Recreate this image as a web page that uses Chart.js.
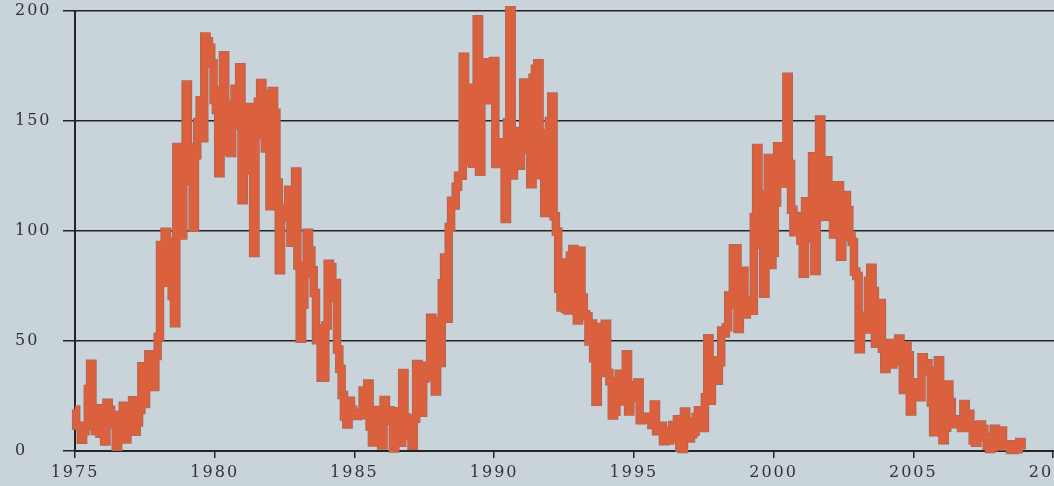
<!DOCTYPE html>
<html>
<head>
<meta charset="utf-8">
<script src="https://cdn.jsdelivr.net/npm/chart.js@4"></script>
<style>
    html, body {
        margin: 0;
        padding: 0;
        background: #c9d4da;
        overflow: hidden;
    }
    #wrap {
        width: 1081px;
        height: 486px;
    }
</style>
</head>
<body>
<div id="wrap"><canvas id="sunChart"></canvas></div>
<script>
// monthly mean sunspot number, one row per year
const startYear = 1975;
const monthly = [
    18.9, 11.5, 11.5, 5.1, 9.0, 11.4, 28.2, 39.7, 13.9, 9.1, 19.4, 7.8,          // 1975
    8.1, 4.3, 21.9, 18.8, 12.4, 12.2, 1.9, 16.4, 13.5, 20.6, 5.2, 15.3,          // 1976
    16.4, 23.1, 8.7, 12.9, 18.6, 38.5, 21.4, 30.1, 44.0, 43.8, 29.1, 43.2,       // 1977
    51.9, 93.6, 76.5, 99.7, 82.7, 95.1, 70.4, 58.1, 138.2, 125.1, 97.9, 122.7,   // 1978
    166.6, 137.5, 138.0, 101.5, 134.4, 149.5, 159.4, 142.2, 188.4, 186.2, 183.3, 176.3, // 1979
    159.6, 155.0, 126.2, 164.1, 179.9, 157.3, 136.3, 135.4, 155.0, 164.7, 147.9, 174.4, // 1980
    114.0, 141.3, 135.5, 156.4, 127.5, 90.0, 143.8, 158.7, 167.3, 162.4, 137.5, 150.1,  // 1981
    111.2, 163.6, 153.8, 122.0, 82.2, 110.4, 106.1, 107.6, 118.8, 94.7, 98.1, 127.0,    // 1982
    84.3, 51.0, 66.5, 80.7, 99.2, 91.1, 82.2, 71.8, 50.3, 55.8, 33.3, 33.4,      // 1983
    57.0, 85.1, 83.5, 69.7, 76.4, 46.1, 37.4, 25.5, 15.7, 12.0, 22.8, 18.7,      // 1984
    16.5, 15.9, 17.2, 16.2, 27.5, 24.2, 30.7, 11.1, 3.9, 18.6, 16.2, 17.3,       // 1985
    2.5, 23.2, 15.1, 18.5, 13.7, 1.1, 18.1, 7.4, 3.8, 35.4, 15.2, 6.8,           // 1986
    10.4, 2.4, 14.7, 39.6, 33.0, 17.4, 33.0, 38.7, 33.9, 60.6, 39.9, 27.1,       // 1987
    59.0, 40.0, 76.2, 88.0, 60.1, 101.8, 113.8, 111.6, 120.1, 125.1, 125.1, 179.2,      // 1988
    161.3, 165.1, 131.4, 130.6, 138.5, 196.2, 126.9, 168.9, 176.7, 159.4, 173.0, 165.5, // 1989
    177.3, 130.5, 140.3, 140.3, 132.2, 105.4, 149.4, 200.3, 125.2, 145.5, 131.4, 129.7, // 1990
    136.9, 167.5, 141.9, 140.0, 121.3, 169.7, 173.7, 176.3, 125.3, 144.1, 108.2, 144.4, // 1991
    150.0, 161.1, 106.7, 99.8, 73.8, 65.2, 85.7, 64.5, 63.9, 88.7, 91.8, 82.6,   // 1992
    59.3, 91.0, 69.8, 62.2, 61.3, 49.8, 57.9, 42.2, 22.4, 56.4, 35.6, 48.9,      // 1993
    57.8, 35.5, 31.7, 16.1, 17.8, 28.0, 35.1, 22.5, 25.7, 44.0, 18.0, 26.2,      // 1994
    24.2, 29.9, 31.1, 14.0, 14.5, 15.6, 14.5, 14.3, 11.8, 21.1, 9.0, 10.0,       // 1995
    11.5, 4.4, 9.2, 4.8, 5.5, 11.8, 8.2, 14.4, 1.6, 0.9, 17.9, 13.3,             // 1996
    5.7, 7.6, 8.7, 15.5, 18.5, 12.7, 10.4, 24.4, 51.3, 22.8, 39.0, 41.2,         // 1997
    31.9, 40.3, 54.8, 53.4, 56.3, 70.7, 66.6, 92.2, 92.2, 55.5, 74.0, 81.9,      // 1998
    62.0, 66.3, 68.8, 63.7, 106.4, 137.7, 113.5, 93.7, 71.5, 116.7, 133.2, 84.6, // 1999
    90.1, 112.9, 138.5, 125.5, 121.6, 124.9, 170.1, 130.5, 109.7, 99.4, 106.8, 104.4,   // 2000
    95.6, 80.6, 113.5, 107.7, 96.6, 134.0, 81.8, 106.4, 150.7, 125.5, 106.5, 132.2,     // 2001
    114.1, 107.4, 98.4, 120.7, 120.8, 88.3, 99.6, 116.4, 109.6, 97.5, 95.0, 81.6,       // 2002
    79.5, 46.2, 61.5, 60.0, 55.2, 77.4, 83.3, 72.7, 48.7, 65.5, 67.3, 46.5,      // 2003
    37.3, 45.8, 49.1, 39.3, 41.5, 43.2, 51.1, 40.9, 27.7, 48.0, 43.5, 17.9,      // 2004
    31.3, 29.2, 24.5, 24.4, 42.6, 39.6, 39.9, 36.4, 22.1, 8.5, 18.0, 41.2,       // 2005
    15.3, 4.9, 10.6, 30.2, 22.3, 13.9, 12.2, 12.9, 14.4, 10.5, 21.4, 13.6,       // 2006
    16.9, 10.6, 4.8, 3.7, 11.7, 12.0, 10.0, 6.2, 2.4, 0.9, 1.7, 10.1,            // 2007
    3.3, 2.1, 9.3, 2.9, 2.9, 3.1, 0.5, 0.5, 1.1, 2.9, 4.1, 0.8                   // 2008
];
const xTicks = [1975, 1980, 1985, 1990, 1995, 2000, 2005, 2010];
const yTicks = [0, 50, 100, 150, 200];

const ink = '#242424';
const points = monthly.map((v, i) => ({ x: startYear + i / 12, y: v }));

const spacing = {
    id: 'spacing',
    beforeDraw(chart) {
        chart.ctx.letterSpacing = '2px';
    }
};

new Chart(document.getElementById('sunChart').getContext('2d'), {
    type: 'line',
    data: {
        datasets: [{
            data: points,
            borderColor: 'rgb(218, 96, 62)',
            borderWidth: 7,
            stepped: 'middle',
            pointRadius: 0,
            clip: false
        }, {
            data: points,
            borderColor: 'rgb(170, 102, 90)',
            borderWidth: 8.5,
            stepped: 'middle',
            pointRadius: 0,
            clip: false
        }]
    },
    options: {
        responsive: true,
        maintainAspectRatio: false,
        animation: false,
        layout: {
            padding: { left: 15, top: 9, right: 0, bottom: 0 }
        },
        plugins: {
            legend: { display: false },
            tooltip: { enabled: false }
        },
        scales: {
            x: {
                type: 'linear',
                min: 1975,
                max: 2011,
                afterBuildTicks: (scale) => {
                    scale.ticks = xTicks.map(v => ({ value: v }));
                },
                afterFit: (scale) => {
                    scale.height = 35;
                },
                grid: {
                    drawOnChartArea: false,
                    drawTicks: true,
                    tickLength: 7,
                    color: ink,
                    lineWidth: 1.5
                },
                border: { display: true, color: ink, width: 2 },
                ticks: {
                    padding: 7,
                    color: '#333333',
                    maxRotation: 0,
                    autoSkip: false,
                    font: { family: 'DejaVu Serif', size: 16, lineHeight: 1 },
                    callback: (v) => String(v)
                }
            },
            y: {
                min: 0,
                max: 200,
                afterBuildTicks: (scale) => {
                    scale.ticks = yTicks.map(v => ({ value: v }));
                },
                afterFit: (scale) => {
                    scale.width = 60;
                },
                grid: {
                    drawOnChartArea: true,
                    drawTicks: true,
                    tickLength: 12,
                    color: ink,
                    lineWidth: 1.5
                },
                border: { display: true, color: ink, width: 2 },
                ticks: {
                    crossAlign: 'far',
                    color: '#333333',
                    font: { family: 'DejaVu Serif', size: 16, lineHeight: 1 },
                    callback: (v) => String(v)
                }
            }
        }
    },
    plugins: [spacing]
});
</script>
</body>
</html>
